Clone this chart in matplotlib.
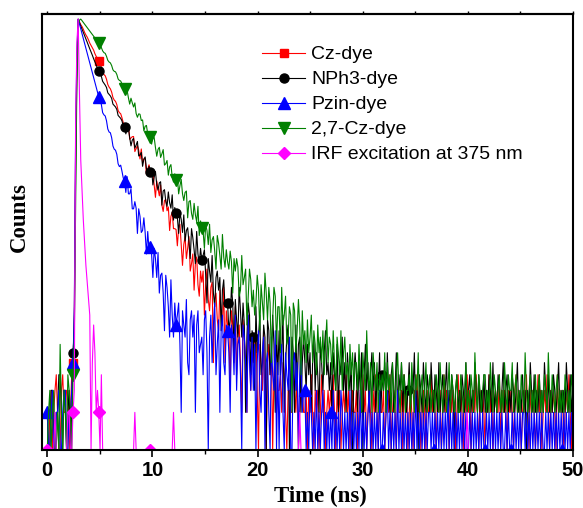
import numpy as np
import matplotlib
matplotlib.use('Agg')
import matplotlib.pyplot as plt

plt.rcParams['font.family'] = 'Liberation Sans'

# TCSPC decay counts, one value per time channel (0.1225 ns)
channel_ns = 0.1225

cz_dye = [
    1, 1, 2, 3, 1, 2, 3, 4, 2, 1, 1, 3, 4, 2, 2, 3, 3, 1, 2, 4,
    5, 12, 240, 1300, 2800, 2660, 2530, 2440, 2320, 2190, 2090, 2010, 1910, 1800, 1720, 1650, 1580, 1480, 1410, 1350,
    1290, 1240, 1160, 1070, 1010, 985, 925, 840, 800, 775, 730, 660, 630, 615, 580, 520, 500, 490, 455, 415,
    400, 365, 366, 401, 306, 313, 321, 322, 244, 258, 272, 250, 213, 256, 200, 213, 213, 160, 177, 191,
    165, 167, 170, 132, 105, 142, 123, 108, 132, 91, 81, 99, 101, 82, 88, 57, 74, 80, 59, 59,
    58, 43, 60, 64, 44, 30, 44, 51, 34, 41, 51, 27, 31, 37, 19, 31, 35, 21, 17, 27,
    22, 27, 12, 21, 28, 16, 13, 20, 22, 5, 16, 18, 11, 9, 19, 12, 10, 20, 5, 13,
    10, 9, 3, 13, 10, 5, 14, 4, 8, 10, 5, 2, 11, 8, 5, 2, 12, 6, 3, 8,
    5, 7, 9, 3, 1, 7, 5, 3, 9, 2, 1, 5, 7, 4, 6, 1, 4, 6, 2, 3,
    3, 4, 2, 5, 4, 2, 1, 3, 3, 2, 2, 4, 3, 2, 4, 1, 2, 3, 3, 2,
    2, 3, 1, 3, 2, 4, 2, 1, 3, 2, 3, 1, 2, 4, 2, 3, 1, 2, 3, 2,
    3, 2, 4, 2, 1, 3, 2, 3, 1, 2, 3, 2, 4, 2, 3, 1, 2, 3, 2, 2,
    3, 1, 2, 3, 2, 4, 2, 3, 1, 2, 3, 2, 1, 3, 2, 4, 2, 1, 3, 2,
    2, 3, 1, 2, 3, 2, 4, 1, 2, 3, 2, 1, 3, 2, 2, 3, 1, 4, 2, 3,
    1, 2, 3, 2, 1, 3, 2, 4, 2, 3, 1, 2, 3, 2, 1, 3, 2, 2, 4, 2,
    3, 2, 1, 3, 2, 3, 1, 2, 4, 2, 3, 2, 1, 3, 2, 3, 2, 1, 2, 4,
    2, 3, 2, 1, 3, 2, 4, 2, 3, 1, 2, 3, 2, 4, 2, 1, 3, 2, 3, 2,
    1, 3, 2, 4, 2, 3, 1, 2, 3, 2, 2, 4, 1, 3, 2, 3, 2, 1, 3, 2,
    3, 2, 1, 3, 4, 2, 3, 2, 1, 2, 3, 2, 4, 2, 1, 3, 2, 3, 2, 1,
    2, 4, 2, 3, 1, 2, 3, 2, 4, 2, 1, 3, 2, 3, 2, 1, 4, 2, 3, 2,
    3, 1, 2, 3, 2, 4, 2, 1, 3,
]

nph3_dye = [
    2, 1, 1, 3, 3, 1, 1, 2, 2, 4, 4, 2, 1, 3, 3, 1, 2, 3, 1, 2,
    6, 9, 160, 1100, 2780, 2620, 2470, 2330, 2190, 2070, 1945, 1830, 1720, 1620, 1530, 1440, 1350, 1275, 1200, 1130,
    1070, 1020, 975, 890, 860, 830, 795, 720, 700, 680, 650, 585, 570, 555, 530, 475, 462, 450, 430, 390,
    384, 338, 373, 375, 316, 271, 301, 311, 260, 275, 294, 225, 229, 240, 186, 212, 221, 178, 162, 186,
    167, 178, 132, 152, 169, 133, 120, 137, 140, 91, 118, 121, 98, 89, 116, 95, 86, 110, 69, 87,
    78, 73, 54, 79, 70, 55, 76, 47, 57, 60, 46, 34, 59, 50, 40, 31, 56, 37, 31, 41,
    33, 36, 40, 25, 15, 34, 27, 22, 36, 18, 14, 24, 27, 19, 24, 9, 19, 23, 14, 15,
    15, 9, 11, 20, 15, 6, 16, 11, 8, 20, 13, 8, 15, 10, 2, 8, 15, 12, 4, 9,
    8, 3, 14, 6, 8, 12, 4, 5, 10, 8, 1, 11, 9, 4, 6, 12, 7, 2, 9, 4,
    9, 4, 6, 12, 2, 5, 8, 10, 1, 4, 8, 6, 2, 10, 3, 7, 8, 2, 5, 8,
    5, 3, 7, 4, 6, 2, 5, 8, 3, 6, 4, 2, 7, 5, 3, 6, 9, 4, 5, 3,
    5, 2, 6, 4, 3, 7, 2, 5, 4, 8, 3, 5, 2, 6, 4, 3, 5, 1, 4, 6,
    4, 2, 5, 3, 6, 1, 4, 7, 3, 5, 2, 4, 6, 3, 5, 2, 4, 3, 6, 2,
    4, 3, 5, 2, 6, 3, 2, 4, 5, 2, 3, 6, 2, 4, 3, 5, 2, 4, 3, 2,
    3, 5, 2, 4, 3, 6, 2, 3, 1, 4, 3, 2, 5, 3, 2, 4, 3, 2, 5, 3,
    2, 4, 3, 2, 5, 2, 3, 4, 2, 3, 5, 2, 3, 2, 4, 3, 1, 3, 4, 2,
    3, 2, 4, 3, 2, 5, 2, 3, 4, 2, 3, 2, 5, 3, 2, 4, 2, 3, 2, 4,
    2, 3, 2, 4, 3, 2, 5, 2, 3, 2, 4, 3, 2, 3, 5, 2, 3, 4, 2, 3,
    2, 4, 3, 2, 3, 5, 2, 3, 2, 4, 2, 3, 1, 3, 2, 5, 3, 2, 4, 2,
    3, 2, 4, 2, 3, 2, 5, 3, 2, 4, 2, 3, 2, 4, 3, 2, 3, 5, 2, 3,
    2, 3, 2, 5, 3, 2, 4, 2, 3,
]

pzin_dye = [
    2, 1, 1, 2, 3, 1, 1, 2, 2, 3, 1, 1, 2, 3, 3, 1, 1, 2, 2, 3,
    5, 14, 300, 1500, 2800, 2560, 2340, 2140, 1960, 1790, 1640, 1500, 1370, 1250, 1145, 1045, 955, 875, 800, 730,
    667, 640, 580, 500, 480, 470, 430, 370, 350, 345, 315, 270, 255, 250, 232, 195, 185, 190, 170, 150,
    142, 115, 154, 112, 112, 123, 85, 85, 97, 86, 54, 85, 74, 55, 57, 72, 55, 37, 56, 40,
    42, 37, 24, 41, 34, 24, 38, 18, 25, 26, 18, 9, 25, 20, 14, 8, 23, 12, 8, 15,
    10, 12, 15, 7, 2, 13, 10, 8, 16, 5, 4, 11, 13, 8, 12, 2, 10, 13, 6, 7,
    8, 4, 11, 13, 6, 1, 8, 12, 5, 10, 15, 4, 7, 11, 2, 9, 12, 5, 4, 10,
    9, 6, 2, 10, 8, 4, 12, 3, 7, 8, 4, 1, 10, 8, 5, 2, 12, 5, 3, 8,
    3, 7, 1, 5, 9, 3, 2, 6, 8, 1, 5, 6, 2, 1, 8, 4, 3, 9, 1, 5,
    1, 5, 7, 2, 1, 6, 4, 3, 8, 1, 1, 5, 6, 3, 5, 1, 4, 6, 2, 3,
    3, 1, 2, 1, 3, 2, 1, 2, 1, 3, 1, 2, 1, 2, 3, 1, 2, 1, 2, 1,
    2, 1, 3, 1, 2, 1, 2, 1, 3, 2, 1, 2, 1, 2, 1, 3, 1, 2, 1, 2,
    1, 2, 1, 3, 1, 2, 1, 2, 1, 2, 3, 1, 2, 1, 2, 1, 2, 1, 3, 1,
    1, 2, 1, 2, 3, 1, 2, 1, 2, 1, 2, 1, 3, 1, 2, 1, 2, 1, 2, 1,
    2, 1, 2, 1, 2, 1, 3, 1, 2, 1, 2, 1, 2, 1, 2, 1, 2, 2, 1, 2,
    1, 2, 1, 2, 1, 2, 1, 2, 1, 2, 1, 3, 1, 2, 1, 2, 1, 2, 1, 2,
    1, 2, 1, 2, 1, 2, 1, 1, 2, 1, 2, 1, 2, 1, 2, 1, 2, 1, 2, 1,
    1, 2, 1, 2, 1, 2, 1, 2, 1, 2, 1, 2, 1, 2, 1, 1, 2, 1, 2, 1,
    1, 2, 1, 2, 1, 2, 1, 2, 1, 2, 2, 1, 2, 1, 2, 1, 2, 1, 2, 1,
    2, 1, 2, 1, 2, 1, 1, 2, 1, 2, 1, 2, 1, 2, 1, 2, 1, 2, 1, 2,
    1, 2, 1, 2, 1, 2, 1, 2, 1,
]

cz27_dye = [
    1, 2, 3, 1, 2, 3, 1, 1, 2, 1, 7, 2, 1, 3, 2, 1, 4, 3, 2, 1,
    4, 8, 90, 900, 2500, 2750, 2800, 2720, 2630, 2550, 2470, 2390, 2320, 2250, 2180, 2110, 2045, 1980, 1920, 1860,
    1800, 1760, 1660, 1560, 1510, 1490, 1410, 1310, 1270, 1250, 1190, 1100, 1070, 1060, 1010, 930, 905, 895, 850, 790,
    773, 761, 753, 657, 585, 652, 599, 555, 598, 492, 459, 489, 485, 432, 437, 357, 389, 395, 337, 329,
    319, 280, 313, 316, 263, 224, 254, 264, 219, 234, 253, 190, 195, 207, 158, 184, 192, 153, 139, 162,
    145, 154, 112, 130, 146, 112, 99, 115, 118, 72, 97, 99, 78, 70, 94, 76, 67, 89, 52, 68,
    60, 56, 41, 63, 57, 44, 64, 38, 48, 51, 39, 28, 52, 45, 36, 28, 53, 35, 29, 40,
    32, 28, 39, 32, 18, 34, 27, 34, 29, 17, 19, 36, 21, 24, 28, 10, 17, 28, 23, 14,
    19, 12, 15, 25, 19, 9, 21, 15, 11, 26, 18, 11, 20, 15, 5, 11, 20, 17, 7, 14,
    14, 6, 20, 10, 12, 17, 7, 8, 14, 12, 2, 15, 13, 6, 9, 16, 10, 4, 13, 7,
    9, 5, 11, 6, 8, 12, 5, 9, 7, 4, 10, 6, 8, 5, 9, 4, 7, 11, 5, 8,
    7, 4, 9, 5, 3, 8, 6, 4, 9, 3, 6, 8, 4, 5, 3, 7, 4, 6, 3, 5,
    5, 3, 7, 4, 2, 6, 4, 3, 9, 4, 3, 5, 2, 6, 4, 3, 5, 2, 4, 3,
    4, 3, 6, 2, 5, 3, 4, 2, 5, 3, 2, 4, 6, 3, 2, 5, 3, 4, 2, 3,
    3, 4, 2, 5, 3, 2, 4, 3, 6, 2, 3, 4, 2, 3, 5, 2, 3, 4, 2, 3,
    3, 2, 4, 3, 2, 5, 3, 2, 4, 3, 2, 3, 5, 2, 4, 3, 2, 3, 4, 2,
    2, 4, 3, 2, 3, 5, 2, 3, 2, 4, 3, 2, 6, 3, 2, 4, 3, 2, 3, 4,
    4, 2, 3, 2, 5, 3, 2, 4, 3, 2, 3, 4, 2, 3, 2, 5, 3, 2, 4, 3,
    3, 5, 2, 3, 4, 2, 3, 2, 4, 3, 2, 6, 3, 2, 3, 4, 2, 3, 2, 4,
    2, 3, 4, 2, 3, 2, 4, 3, 2, 6, 3, 2, 4, 3, 2, 3, 4, 2, 3, 2,
    3, 2, 4, 3, 2, 3, 2, 4, 3,
]

irf = [
    1, 1, 1, 1, 1, 1, 2, 1, 1, 1, 1, 1, 1, 1, 1, 1, 2, 2, 1, 1,
    2, 3, 400, 1800, 2800, 700, 209, 120, 69, 45, 30, 22, 16, 12, 1, 5, 10, 6, 2, 3,
    2, 1, 4, 1, 1, 1, 1, 1, 1, 1, 1, 1, 1, 1, 1, 1, 1, 1, 1, 1,
    1, 1, 1, 1, 1, 1, 1, 1, 2, 1, 1, 1, 1, 1, 1, 1, 1, 1, 1, 1,
    1, 1, 1, 1, 1, 1, 1, 1, 1, 1, 1, 1, 1, 1, 1, 1, 1, 1, 2, 1,
    1, 1, 1, 1, 1, 1, 1, 1, 1, 1, 1, 1, 1, 1, 1, 1, 1, 1, 1, 1,
    1, 1, 1, 1, 1, 1, 1, 1, 1, 1, 1, 1, 1, 1, 1, 1, 1, 1, 1, 1,
    1, 1, 1, 1, 1, 1, 1, 1, 1, 1, 1, 1, 1, 1, 1, 1, 1, 1, 1, 1,
    1, 1, 1, 1, 1, 1, 1, 1, 1, 1, 1, 1, 1, 1, 1, 1, 1, 1, 1, 1,
    1, 1, 1, 1, 1, 1, 1, 1, 1, 1, 1, 1, 1, 1, 1, 1, 2, 1, 1, 1,
    1, 1, 1, 1, 1, 1, 1, 1, 1, 1, 1, 1, 1, 1, 1, 1, 1, 1, 1, 1,
    1, 1, 1, 1, 1, 1, 1, 1, 1, 1, 1, 1, 1, 1, 1, 1, 1, 1, 1, 1,
    1, 1, 1, 1, 1, 1, 1, 1, 1, 1, 1, 1, 1, 1, 1, 1, 1, 1, 1, 1,
    1, 1, 1, 1, 1, 1, 1, 1, 1, 1, 1, 1, 1, 1, 1, 1, 1, 1, 1, 1,
    1, 1, 1, 1, 1, 1, 1, 1, 1, 1, 1, 1, 1, 1, 1, 1, 1, 1, 1, 1,
    1, 1, 1, 1, 1, 1, 1, 1, 1, 1, 1, 1, 1, 1, 1, 1, 1, 1, 1, 1,
    1, 1, 1, 1, 1, 1, 2, 1, 1, 1, 1, 1, 1, 1, 1, 1, 1, 1, 1, 1,
    1, 1, 1, 1, 1, 1, 1, 1, 1, 1, 1, 1, 1, 1, 1, 1, 1, 1, 1, 1,
    1, 1, 1, 1, 1, 1, 1, 1, 1, 1, 1, 1, 1, 1, 1, 1, 1, 1, 1, 1,
    1, 1, 1, 1, 1, 1, 1, 1, 1, 1, 1, 1, 1, 1, 1, 1, 1, 1, 1, 1,
    1, 1, 1, 1, 1, 1, 1, 1, 1,
]

labels = ['Cz-dye', 'NPh3-dye', 'Pzin-dye', '2,7-Cz-dye', 'IRF excitation at 375 nm']
xticks = [0, 10, 20, 30, 40, 50]

fig = plt.figure(figsize=(5.83, 5.08), dpi=100)
ax = fig.add_axes([42 / 583, 1 - 450 / 508, 531 / 583, 436 / 508])

series = [
    (cz_dye, 'red', 's', 6, [20, 40]),
    (nph3_dye, 'black', 'o', 6.5, [20, 40, 60, 80, 100, 120, 140, 160, 260, 280]),
    (pzin_dye, 'blue', '^', 8, [0, 20, 40, 60, 80, 100, 140, 200, 220, 260, 300, 340, 360, 400]),
    (cz27_dye, 'green', 'v', 8, [20, 40, 60, 80, 100, 120]),
    (irf, 'magenta', 'D', 6.6, [0, 20, 40, 80]),
]
for (counts, color, marker, ms, every), lab in zip(series, labels):
    time_ns = np.arange(len(counts)) * channel_ns
    ax.plot(time_ns, counts, color=color, lw=0.8, marker=marker, ms=ms,
            markevery=every, label=lab)

ax.set_yscale('log')
ax.set_ylim(1, 3076)
ax.set_xlim(-0.5, 50)
ax.tick_params(axis='y', which='both', left=False, labelleft=False)

ax.set_xticks(xticks)
ax.set_xticks([5, 15, 25, 35, 45], minor=True)
ax.tick_params(axis='x', which='major', direction='out', length=5, width=1.2, pad=3, labelsize=14.5)
ax.tick_params(axis='x', which='minor', direction='out', length=3, width=1.0)
for t in ax.get_xticklabels():
    t.set_fontweight('bold')

top = ax.secondary_xaxis('top')
top.set_xticks([0, 5, 10, 15, 20, 25, 30, 35, 40, 45, 50])
top.tick_params(axis='x', direction='out', length=2, width=1.0, labeltop=False)
top.spines['top'].set_linewidth(1.5)

for sp in ax.spines.values():
    sp.set_linewidth(1.5)

ax.set_xlabel('Time (ns)', fontfamily='Liberation Serif', fontweight='bold', fontsize=16.5)
ax.xaxis.set_label_coords(0.5235, -0.083)
ax.set_ylabel('Counts', fontfamily='Liberation Serif', fontweight='bold', fontsize=16.5)
ax.yaxis.set_label_coords(-0.022, 0.534)

ax.legend(loc='upper left', bbox_to_anchor=(0.414, 0.927), frameon=False,
          borderpad=0, borderaxespad=0, fontsize=14, handlelength=2.23,
          handletextpad=0.3, labelspacing=0.38)

fig.savefig('out.png', dpi=100)
